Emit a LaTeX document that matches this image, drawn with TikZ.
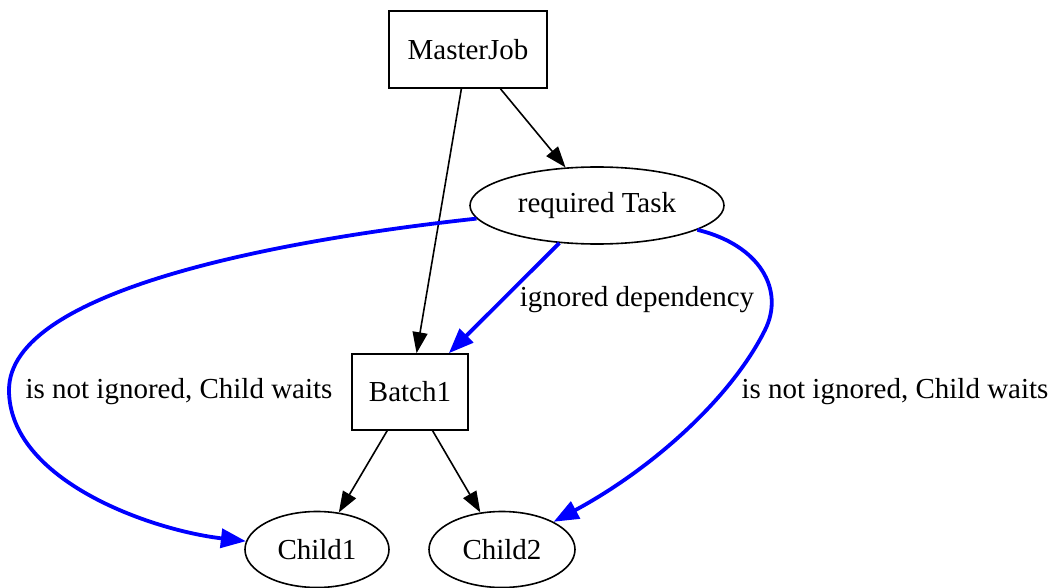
\documentclass[tikz,border=0pt]{standalone}
\usepackage{fontspec}
\setmainfont{Liberation Serif}
\usetikzlibrary{arrows.meta,shapes.geometric}
\begin{document}
\begin{tikzpicture}[x=1pt,y=-1pt,
  every node/.style={font=\fontsize{29}{34}\selectfont},
  box/.style={draw,line width=1.6pt,rectangle,inner sep=0pt},
  oval/.style={draw,line width=1.6pt,ellipse,inner sep=0pt},
  blk/.style={draw,line width=1.6pt,-{Triangle[length=21pt,width=15pt]}},
  blu/.style={draw=blue,line width=3.8pt,-{Triangle[length=25pt,width=19pt]}},
  lbl/.style={inner sep=0pt}]
\useasboundingbox[fill=white] (0,0) rectangle (1051,588);
\node[box,minimum width=158pt,minimum height=77pt] (master) at (468,49.5) {MasterJob};
\node[oval,minimum width=254pt,minimum height=77pt] (task) at (597,205.5) {required Task};
\node[box,minimum width=116pt,minimum height=76pt] (batch) at (410,392) {Batch1};
\node[oval,minimum width=144pt,minimum height=76pt] (c1) at (317,549.5) {Child1};
\node[oval,minimum width=146pt,minimum height=76pt] (c2) at (502,549.5) {Child2};
\node[lbl] (ldep) at (637,300) {ignored dependency};
\node[lbl] (lleft) at (179,392) {is not ignored, Child waits};
\node[lbl] (lright) at (895,392) {is not ignored, Child waits};
\draw[blk] (master) -- (batch);
\draw[blk] (master) -- (task);
\draw[blk] (batch) -- (c1);
\draw[blk] (batch) -- (c2);
\draw[blu] (task) -- (batch);
\draw[blu] (task) .. controls (280,240) and (9,290) .. (9,390) .. controls (9,480) and (150,530) .. (c1);
\draw[blu] (task) .. controls (760,245) and (785,290) .. (765,330) .. controls (730,400) and (650,470) .. (c2);
\end{tikzpicture}
\end{document}
